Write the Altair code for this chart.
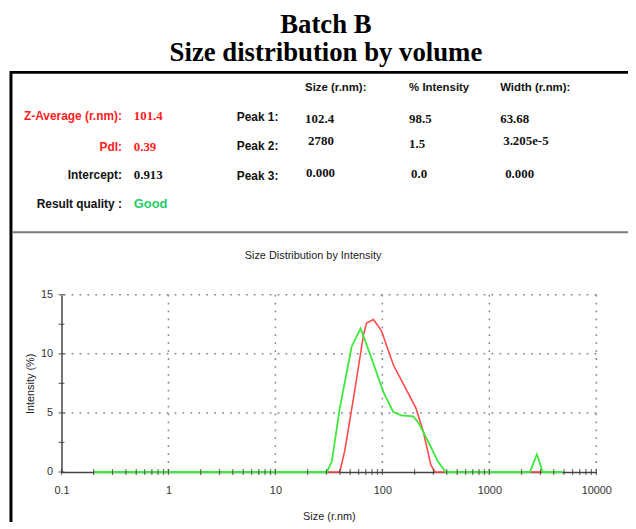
import altair as alt
import pandas as pd

# ---------------- data ----------------
green_size = [0.2, 30.3, 33.7, 40.0, 51.6, 62.5, 75.8, 102, 126, 150, 194, 220, 267, 330, 392, 2400, 2780, 3160, 4850]
green_int = [0, 0, 0.9, 5.4, 10.6, 12.15, 10.1, 6.8, 5.1, 4.8, 4.7, 4.1, 2.6, 0.9, 0, 0, 1.5, 0, 0]

red_size = [30.3, 40.0, 44.5, 53.8, 66.6, 71.1, 82.6, 98, 126.5, 160, 206, 240, 284, 310, 392]
red_int = [0, 0, 1.8, 6.3, 11.6, 12.6, 12.9, 11.95, 9.07, 7.3, 5.4, 3.5, 0.6, 0, 0]
red_size2 = [2400, 3160]
red_int2 = [0, 0]

x_labels = [0.1, 1, 10, 100, 1000, 10000]
y_labels = [0, 5, 10, 15]
x_decades = [0.1, 1, 10, 100, 1000]
x_multipliers = [1, 2, 3, 4, 5, 6, 7, 8, 9]
y_ticks = [0, 2.5, 5, 7.5, 10, 12.5, 15]

title_lines = ["Batch B", "Size distribution by volume"]
plot_title = "Size Distribution by Intensity"
left_labels = ["Z-Average (r.nm):", "PdI:", "Intercept:", "Result quality :"]
left_values = ["101.4", "0.39", "0.913", "Good"]
peak_labels = ["Peak 1:", "Peak 2:", "Peak 3:"]
col_headers = ["Size (r.nm):", "% Intensity", "Width (r.nm):"]
peak_size = ["102.4", "2780", "0.000"]
peak_intensity = ["98.5", "1.5", "0.0"]
peak_width = ["63.68", "3.205e-5", "0.000"]

# ---------------- layout / styles ----------------
W, H = 540, 179
RED_LINE = "#ff4a4a"
GREEN_LINE = "#3bea3b"
RED_TXT = "#ff2020"
GREEN_TXT = "#22cc66"
SANS = "Liberation Sans"
SERIF = "Liberation Serif"

green_df = pd.DataFrame({"size": green_size, "intensity": green_int})
red_df = pd.concat([
    pd.DataFrame({"size": red_size, "intensity": red_int, "seg": "a"}),
    pd.DataFrame({"size": red_size2, "intensity": red_int2, "seg": "b"}),
])
xtick_vals = [d * m for d in x_decades for m in x_multipliers] + [10000]
xtick_df = pd.DataFrame({"size": xtick_vals, "intensity": 0})
ytick_df = pd.DataFrame({"size": 0.1, "intensity": y_ticks})
xgrid_df = pd.DataFrame({"size": x_labels[1:]})
ygrid_df = pd.DataFrame({"intensity": y_labels[1:]})

xscale = alt.Scale(type="log", domain=[0.1, 10000], nice=False)
yscale = alt.Scale(domain=[0, 15], nice=False)

x_axis = alt.Axis(values=x_labels, labelExpr="datum.value < 1 ? '0.1' : format(datum.value, 'd')",
                  ticks=False, grid=False, domainColor="#444", domainWidth=1.5,
                  labelFont=SANS, labelFontSize=11, labelColor="#333", labelPadding=13,
                  labelBaseline="top", labelFlush=False,
                  title="Size (r.nm)", titleFont=SANS, titleFontSize=11, titleFontWeight="normal",
                  titleColor="#222", titleY=45, titleBaseline="middle")
y_axis = alt.Axis(values=y_labels, ticks=False, grid=False, domainColor="#444", domainWidth=1.5,
                  labelFont=SANS, labelFontSize=11, labelColor="#333", labelPadding=9,
                  labelBaseline="middle",
                  title="Intensity (%)", titleFont=SANS, titleFontSize=11, titleFontWeight="normal",
                  titleColor="#222", titleAngle=270, titleX=-31, titleY=H / 2,
                  titleAlign="center", titleBaseline="middle")

grid_style = dict(color="#888", strokeDash=[1.8, 6.2], strokeWidth=1.5)
xgrid = alt.Chart(xgrid_df).mark_rule(**grid_style).encode(x=alt.X("size:Q", scale=xscale, axis=x_axis))
ygrid = alt.Chart(ygrid_df).mark_rule(**grid_style).encode(y=alt.Y("intensity:Q", scale=yscale, axis=y_axis))

red_line = alt.Chart(red_df).mark_line(color=RED_LINE, strokeWidth=1.6).encode(
    x=alt.X("size:Q", scale=xscale), y=alt.Y("intensity:Q", scale=yscale), detail="seg:N")
green_line = alt.Chart(green_df).mark_line(color=GREEN_LINE, strokeWidth=1.8).encode(
    x=alt.X("size:Q", scale=xscale), y=alt.Y("intensity:Q", scale=yscale))

xticks = alt.Chart(xtick_df).mark_tick(orient="vertical", size=6, thickness=1.2, color="#333").encode(
    x=alt.X("size:Q", scale=xscale), y=alt.Y("intensity:Q", scale=yscale))
yticks = alt.Chart(ytick_df).mark_tick(orient="horizontal", size=6, thickness=1.2, color="#333").encode(
    x=alt.X("size:Q", scale=xscale), y=alt.Y("intensity:Q", scale=yscale))

layers = [xgrid, ygrid, red_line, green_line, xticks, yticks]


def txt(s, x, y, size=12, font=SANS, weight="bold", color="#111", align="left", baseline="middle"):
    return alt.Chart(pd.DataFrame({"t": [s]})).mark_text(
        font=font, fontSize=size, fontWeight=weight, color=color, align=align, baseline=baseline
    ).encode(text="t:N", x=alt.value(x), y=alt.value(y))


def hline(x1, x2, y, color, width):
    return alt.Chart(pd.DataFrame({"v": [0]})).mark_rule(color=color, strokeWidth=width).encode(
        x=alt.value(x1), x2=alt.value(x2), y=alt.value(y))


def vline(x, y1, y2, color, width):
    return alt.Chart(pd.DataFrame({"v": [0]})).mark_rule(color=color, strokeWidth=width).encode(
        x=alt.value(x), y=alt.value(y1), y2=alt.value(y2))


# offsets are relative to the plot origin (62, 295) in page pixels
OX, OY = 62, 295
# main title
layers.append(txt(title_lines[0], 329 - OX, 31 - OY, size=27, font=SERIF, align="center", baseline="alphabetic", color="#000"))
layers.append(txt(title_lines[1], 329 - OX, 59 - OY, size=27, font=SERIF, align="center", baseline="alphabetic", color="#000"))
# box
layers.append(hline(10 - OX, 640 - OX, 70.5 - OY, "#000", 3))
layers.append(vline(11 - OX, 69 - OY, 540 - OY, "#000", 3))
layers.append(hline(12 - OX, 640 - OX, 232 - OY, "#7a7a7a", 2))

# left block
left_y = [115, 146, 174, 203]
left_label_colors = [RED_TXT, RED_TXT, "#111", "#111"]
left_value_colors = [RED_TXT, RED_TXT, "#111", GREEN_TXT]
left_value_fonts = [SERIF, SERIF, SERIF, SANS]
for i, s in enumerate(left_labels):
    layers.append(txt(s, 123 - OX, left_y[i] - OY, color=left_label_colors[i], align="right"))
    layers.append(txt(left_values[i], 135 - OX, left_y[i] - OY, size=13,
                      font=left_value_fonts[i], color=left_value_colors[i]))

peak_y = [116, 145, 175]
for i, s in enumerate(peak_labels):
    layers.append(txt(s, 239 - OX, peak_y[i] - OY))

col_x = [308, 413, 505]
for i, s in enumerate(col_headers):
    layers.append(txt(s, col_x[i] - OX, 86 - OY, size=11.5))

size_x = [308, 311, 309]
size_y = [118, 140, 172]
int_x = [413, 413, 415]
int_y = [118, 143, 173]
wid_x = [505, 508, 510]
wid_y = [118, 140, 173]
for i in range(3):
    layers.append(txt(peak_size[i], size_x[i] - OX, size_y[i] - OY, size=13, font=SERIF))
    layers.append(txt(peak_intensity[i], int_x[i] - OX, int_y[i] - OY, size=13, font=SERIF))
    layers.append(txt(peak_width[i], wid_x[i] - OX, wid_y[i] - OY, size=13, font=SERIF))

# plot title
layers.append(txt(plot_title, 316 - OX, 256 - OY, size=11, weight="normal", align="center", color="#222"))

chart = alt.layer(*layers).properties(
    width=W, height=H,
    autosize=alt.AutoSizeParams(type="none"),
    padding={"left": OX - 8, "top": OY - 8, "right": 636 - 8 - (OX - 8) - W - 2, "bottom": 48},
    background="white",
).configure_view(stroke=None)

chart.save("out.html", embed_options={"renderer": "svg", "actions": False})
